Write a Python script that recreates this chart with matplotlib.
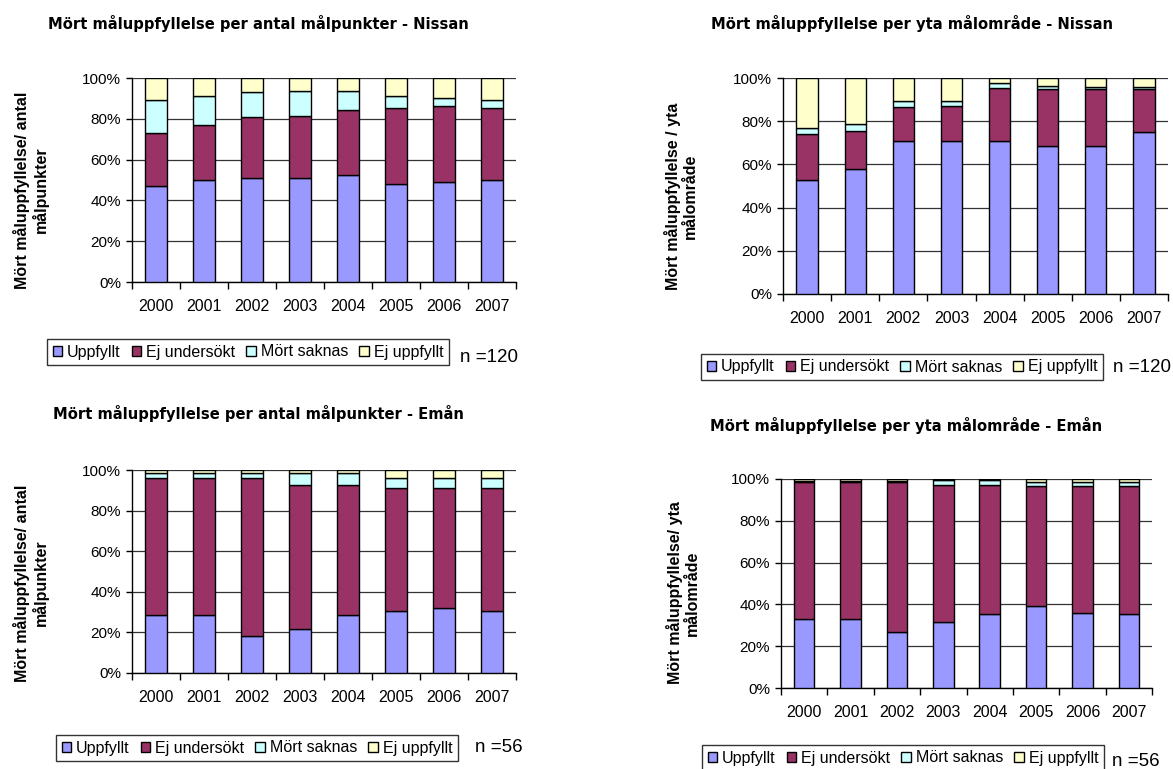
import numpy as np
import matplotlib
matplotlib.use("Agg")
import matplotlib.pyplot as plt
from matplotlib.patches import Patch

plt.rcParams['font.family'] = ['Liberation Sans', 'DejaVu Sans']

# år och kategorier
years = ['2000', '2001', '2002', '2003', '2004', '2005', '2006', '2007']
categories = ['Uppfyllt', 'Ej undersökt', 'Mört saknas', 'Ej uppfyllt']
colors = ['#9999FF', '#993366', '#CCFFFF', '#FFFFCC']

# Nissan, andel av antal målpunkter (%)
nissan_antal_uppfyllt = [47, 50, 51, 51, 52.5, 48, 49, 50]
nissan_antal_ej_undersokt = [26, 27, 30, 30.5, 32, 37.5, 37.5, 35.5]
nissan_antal_saknas = [16, 14, 12, 12, 9, 5.5, 3.5, 3.5]
nissan_antal_ej_uppfyllt = [11, 9, 7, 6.5, 6.5, 9, 10, 11]

# Nissan, andel av yta målområde (%)
nissan_yta_uppfyllt = [53, 58, 71, 71, 71, 68.5, 68.5, 75]
nissan_yta_ej_undersokt = [21, 17.5, 15.5, 16, 24.5, 26.5, 26.5, 20]
nissan_yta_saknas = [3, 3, 3, 2.5, 2, 1.5, 0.8, 0.8]
nissan_yta_ej_uppfyllt = [23, 21.5, 10.5, 10.5, 2.5, 3.5, 4.2, 4.2]

# Emån, andel av antal målpunkter (%)
eman_antal_uppfyllt = [28.5, 28.5, 18, 21.5, 28.5, 30.5, 32, 30.5]
eman_antal_ej_undersokt = [67.5, 67.5, 78, 71, 64, 60.5, 59, 60.5]
eman_antal_saknas = [2.5, 2.5, 2.5, 6, 6, 5, 5, 5]
eman_antal_ej_uppfyllt = [1.5, 1.5, 1.5, 1.5, 1.5, 4, 4, 4]

# Emån, andel av yta målområde (%)
eman_yta_uppfyllt = [33, 33, 27, 31.5, 35.5, 39, 36, 35.5]
eman_yta_ej_undersokt = [65.5, 65.5, 71.5, 65.5, 61.5, 57.5, 60.5, 61]
eman_yta_saknas = [0.7, 0.7, 0.7, 2.3, 2.3, 2, 2, 2]
eman_yta_ej_uppfyllt = [0.8, 0.8, 0.8, 0.7, 0.7, 1.5, 1.5, 1.5]

W, H = 1173, 769
fig = plt.figure(figsize=(W / 100, H / 100), dpi=100)


def px_box(l, r, t, b):
    return [l / W, 1 - b / H, (r - l) / W, (b - t) / H]


def rita(box, serier, titel, title_xy, ylabel, ylabel_xy, leg_xy, n_text, n_xy):
    ax = fig.add_axes(px_box(*box))
    x = np.arange(len(years))
    botten = np.zeros(len(years))
    for vals, col in zip(serier, colors):
        vals = np.array(vals, dtype=float)
        ax.bar(x, vals, 0.44, bottom=botten, color=col, edgecolor='black',
               linewidth=1.0, zorder=3)
        botten += vals
    ax.set_xlim(-0.5, len(years) - 0.5)
    ax.set_ylim(0, 100)
    ax.set_yticks(np.arange(0, 101, 20))
    ax.set_yticklabels([f'{v}%' for v in range(0, 101, 20)], fontsize=11)
    ax.set_xticks(x)
    ax.set_xticklabels(years, fontsize=11.5)
    ax.tick_params(axis='x', which='major', length=0, pad=12)
    # små streck mellan staplarna
    ax.set_xticks(np.arange(-0.5, len(years)), minor=True)
    ax.tick_params(axis='x', which='minor', length=5, width=1, direction='out')
    ax.tick_params(axis='y', length=4, width=1, direction='out', pad=4)
    ax.yaxis.grid(True, color='#333333', linewidth=0.9, zorder=0)
    ax.set_axisbelow(True)
    for s in ['top', 'right']:
        ax.spines[s].set_visible(False)
    for s in ['left', 'bottom']:
        ax.spines[s].set_linewidth(1.0)
        ax.spines[s].set_color('black')

    fig.text(title_xy[0] / W, 1 - title_xy[1] / H, titel, fontsize=10.6,
             fontweight='bold', family=['DejaVu Sans'], ha='center', va='center')
    fig.text(ylabel_xy[0] / W, 1 - ylabel_xy[1] / H, ylabel, fontsize=11.5,
             fontweight='bold', rotation=90, ha='center', va='center',
             multialignment='center', linespacing=1.1)

    handles = [Patch(facecolor=c, edgecolor='black', linewidth=1.0) for c in colors]
    leg = fig.legend(handles, categories, loc='center',
                     bbox_to_anchor=(leg_xy[0] / W, 1 - leg_xy[1] / H),
                     ncol=4, fontsize=11.5, frameon=True, fancybox=False,
                     handlelength=0.6, handleheight=0.6, handletextpad=0.3,
                     columnspacing=0.7, borderpad=0.35, borderaxespad=0)
    leg.get_frame().set_edgecolor('black')
    leg.get_frame().set_linewidth(1.0)
    fig.text(n_xy[0] / W, 1 - n_xy[1] / H, n_text, fontsize=13.5,
             ha='left', va='center')
    return ax


rita((132, 516, 78, 282),
     [nissan_antal_uppfyllt, nissan_antal_ej_undersokt, nissan_antal_saknas, nissan_antal_ej_uppfyllt],
     'Mört måluppfyllelse per antal målpunkter - Nissan', (258, 24),
     'Mört måluppfyllelse/ antal\nmålpunkter', (31, 190),
     (248, 352), 'n =120', (460, 357))

rita((783, 1168, 78, 294),
     [nissan_yta_uppfyllt, nissan_yta_ej_undersokt, nissan_yta_saknas, nissan_yta_ej_uppfyllt],
     'Mört måluppfyllelse per yta målområde - Nissan', (912, 24),
     'Mört måluppfyllelse / yta\nmålområde', (681, 196),
     (902, 367), 'n =120', (1113, 367))

rita((132, 516, 470, 673),
     [eman_antal_uppfyllt, eman_antal_ej_undersokt, eman_antal_saknas, eman_antal_ej_uppfyllt],
     'Mört måluppfyllelse per antal målpunkter - Emån', (258, 414),
     'Mört måluppfyllelse/ antal\nmålpunkter', (31, 583),
     (257, 748), 'n =56', (475, 748))

rita((781, 1152, 479, 688),
     [eman_yta_uppfyllt, eman_yta_ej_undersokt, eman_yta_saknas, eman_yta_ej_uppfyllt],
     'Mört måluppfyllelse per yta målområde - Emån', (906, 425),
     'Mört måluppfyllelse/ yta\nmålområde', (683, 593),
     (903, 758), 'n =56', (1112, 762))

fig.savefig('out.png', dpi=100, facecolor='white')
